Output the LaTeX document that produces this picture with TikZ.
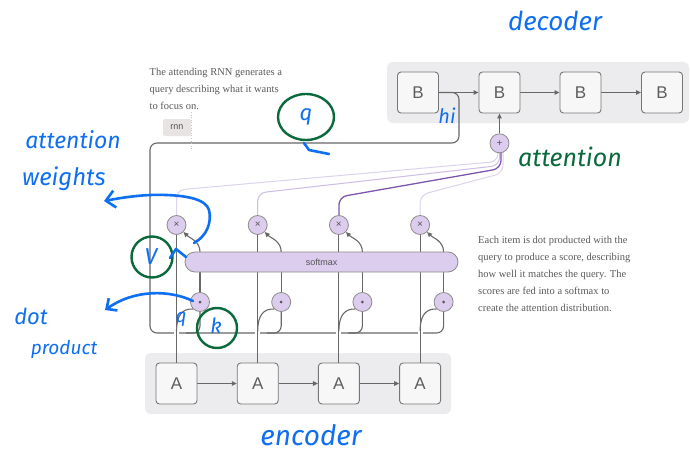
\documentclass[tikz,border=0pt]{standalone}
\usepackage{fontspec}
\setmainfont{Liberation Serif}
\newfontfamily\labelfont{Liberation Sans}
\newfontfamily\handfont{Fira Sans}
\usetikzlibrary{arrows.meta}
\pgfdeclarelayer{back}
\pgfdeclarelayer{mid}
\pgfsetlayers{back,mid,main}

\definecolor{panelgray}{HTML}{ECECEF}
\definecolor{boxfill}{HTML}{F7F7F7}
\definecolor{boxborder}{HTML}{767676}
\definecolor{labelgray}{HTML}{5E5E5E}
\definecolor{linegray}{HTML}{686868}
\definecolor{opfill}{HTML}{DCCCEE}
\definecolor{opborder}{HTML}{8C8C8C}
\definecolor{opsym}{HTML}{555555}
\definecolor{notegray}{HTML}{5A5A5A}
\definecolor{tagfill}{HTML}{E8E4E4}
\definecolor{wlight}{HTML}{DDD3EC}
\definecolor{wmid}{HTML}{CDBCE3}
\definecolor{wstrong}{HTML}{7D56AE}
\definecolor{handblue}{HTML}{0F6FF2}
\definecolor{handgreen}{HTML}{0B6A3C}

\tikzset{
  panel/.style={fill=panelgray, rounded corners=6pt, inner sep=0pt},
  cell/.style={draw=boxborder, fill=boxfill, line width=0.9pt, rounded corners=3.5pt,
    minimum size=41pt, inner sep=0pt, text=labelgray,
    font=\labelfont\fontsize{17}{17}\selectfont},
  op/.style={circle, draw=opborder, fill=opfill, line width=0.8pt, minimum size=19pt,
    inner sep=0pt, text=opsym, font=\labelfont\fontsize{10}{10}\selectfont},
  barnode/.style={draw=opborder, fill=opfill, line width=0.8pt, rounded corners=10pt,
    minimum width=273pt, minimum height=20pt, inner sep=0pt, text=opsym,
    font=\labelfont\fontsize{9}{9}\selectfont},
  tag/.style={fill=tagfill, rounded corners=1.5pt, minimum width=28pt, minimum height=17pt,
    inner sep=0pt, text=opsym, font=\labelfont\fontsize{9}{9}\selectfont},
  conn/.style={draw=linegray, line width=1.1pt},
  headed/.style={-{Triangle[length=5pt,width=4.5pt]}},
  note/.style={text=notegray, font=\fontsize{10.5}{17}\selectfont, align=left,
    inner sep=0pt, anchor=north west},
  hand/.style={text=handblue, inner sep=0pt, font=\handfont\itshape\fontsize{#1}{#1}\selectfont},
  ink/.style={draw=handblue, line width=2.6pt, line cap=round, line join=round},
  greenink/.style={draw=handgreen, line width=2.4pt},
}

\begin{document}
\begin{tikzpicture}[x=1pt,y=-1pt]
\useasboundingbox (0,0) rectangle (690,452);

% ---- white page and grey panels behind the two RNNs
\begin{pgfonlayer}{back}
  \fill[white] (0,0) rectangle (690,452);
  \node[panel, minimum width=302pt, minimum height=61pt] (decpanel) at (538,92.5) {};
  \node[panel, minimum width=306pt, minimum height=61pt] (encpanel) at (298,383.5) {};
\end{pgfonlayer}

% ---- RNN cells
\foreach \i/\x in {1/418,2/499.5,3/580.5,4/662}
  \node[cell] (b\i) at (\x,92.5) {B};
\foreach \i/\x in {1/176.5,2/257.7,3/338.9,4/420.1}
  \node[cell] (a\i) at (\x,383.5) {A};

% ---- operators
\foreach \i/\x in {1/176.5,2/257.7,3/338.9,4/420.1}
  \node[op] (x\i) at (\x,225) {×};
\foreach \i/\x in {1/200,2/281.2,3/362.4,4/443.6}
  \node[op] (d\i) at (\x,302) {};
\foreach \i in {1,...,4}
  \fill[opsym] (d\i) circle (1.5pt);
\node[op] (plus) at (499.5,143.3) {+};
\node[barnode] (sm) at (321.5,262) {softmax};
\node[tag] (rnntag) at (177,127.5) {rnn};
\draw[dotted, draw=black!22, line width=0.6pt] (191,112) -- (191,150);

% ---- explanatory notes
\node[note] (querynote) at (149.5,68.3)
  {The attending RNN generates a\\query describing what it wants\\to focus on.};
\node[note] (scorenote) at (478,236.3)
  {Each item is dot producted with the\\query to produce a score, describing\\how well it matches the query. The\\scores are fed into a softmax to\\create the attention distribution.};

% ---- wiring
\begin{pgfonlayer}{mid}
  % recurrent chains
  \foreach \i/\j in {1/2,2/3,3/4} {
    \draw[conn, headed] (b\i) -- (b\j);
    \draw[conn, headed] (a\i) -- (a\j);
  }
  % query from the decoder state, routed round to every dot product
  \draw[conn, rounded corners=7pt] (b1.east) -- (459,92.5) -- (459,143) -- (150,143)
    -- (150,333) -- (443.6,333) -- (d4.south);
  \foreach \i/\x in {1/200,2/281.2,3/362.4}
    \draw[conn, rounded corners=7pt] (\x-14,333) -- (\x,333) -- (d\i.south);
  % gaps where the encoder outputs cross the query line
  \foreach \x in {176.5,257.7,338.9,420.1}
    \draw[white, line width=5pt] (\x,329) -- (\x,337);
  % encoder outputs (values) up to the weighting nodes
  \foreach \i in {1,...,4}
    \draw[conn] (a\i.north) -- (x\i.south);
  % keys into the dot products
  \foreach \i/\x in {1/176.5,2/257.7,3/338.9,4/420.1}
    \draw[conn] (\x,331) .. controls (\x,315) and (\x+6,308.5) .. (d\i.south west);
  % scores into the softmax
  \foreach \i in {1,...,4}
    \draw[conn, headed] (d\i.north) -- (d\i.north |- sm.north);
  % softmax weights into the products
  \foreach \i/\x in {1/176.5,2/257.7,3/338.9,4/420.1}
    \draw[conn, headed] (\x+23.5,252) .. controls (\x+23.5,241) and (\x+13,238) .. (x\i.south east);
  % weighted values summed
  \draw[wlight, line width=1pt, rounded corners=8pt]
    (x1.north) -- (176.5,190) -- (498,161.5) -- (498,150);
  \draw[wmid, line width=1pt, rounded corners=8pt]
    (x2.north) -- (257.7,193) -- (499.5,165.5) -- (499.5,150);
  \draw[wstrong, line width=1.3pt, rounded corners=8pt]
    (x3.north) -- (338.9,197) -- (501,168.5) -- (501,150);
  \draw[wlight, line width=1pt, rounded corners=8pt]
    (x4.north) -- (420.1,195) -- (503,173) -- (503,150);
  \draw[conn, headed] (plus.north) -- (b2.south);
\end{pgfonlayer}

% ---- handwritten annotations
\node[hand=26] (hdecoder) at (555,21) {decoder};
\node[hand=28] (hencoder) at (311,435) {encoder};
\node[hand=20] (hhi) at (447,116) {hi};
\node[hand=25, text=handgreen] (hattn) at (570,157) {attention};
\node[hand=23] (hattw1) at (73,140) {attention};
\node[hand=24] (hattw2) at (64,179) {weights};
\node[hand=22] (hdot) at (31,316) {dot};
\node[hand=19] (hprod) at (64,349) {product};

\draw[greenink] (306,117) ellipse [x radius=28pt, y radius=23pt];
\node[hand=22] (hq1) at (306,117) {q};
\draw[ink] (304,143) -- (309,150) -- (329,154);

\draw[greenink] (152,257) circle (20.5pt);
\node[hand=23] (hv) at (151,257) {V};
\draw[ink] (170,258) -- (176,249) -- (186,257);

\draw[greenink] (217,328) circle (20pt);
\node[hand=21] (hk) at (216,326) {k};
\node[hand=19] (hq2) at (181,319) {q};

\draw[ink, -{Straight Barb[length=9pt,width=17pt]}]
  (194,243) .. controls (207,236) and (212,222) .. (209,210)
  .. controls (206,199) and (185,194) .. (150,195)
  .. controls (130,196) and (115,199) .. (104,201);
\draw[ink, -{Straight Barb[length=8pt,width=15pt]}]
  (193,301) .. controls (170,290) and (135,289) .. (105,310);
\end{tikzpicture}
\end{document}
